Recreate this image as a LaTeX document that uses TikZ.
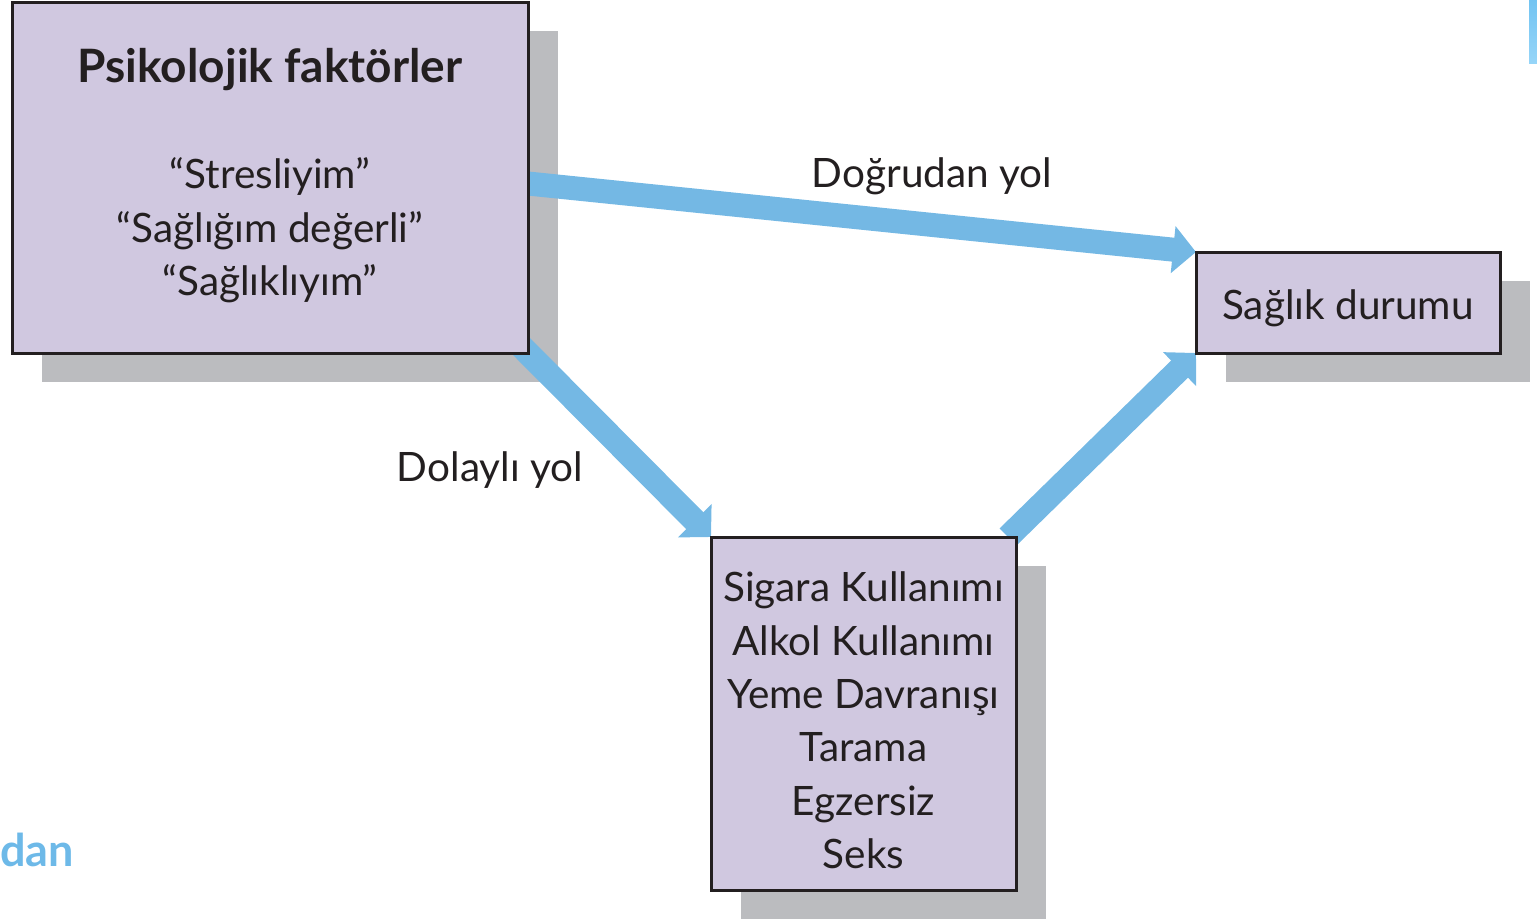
\documentclass[tikz,border=0pt]{standalone}
\usepackage{fontspec}
\setmainfont{Lato}
\usetikzlibrary{arrows.meta}
\definecolor{boxfill}{HTML}{D0C8E0}
\definecolor{boxline}{HTML}{231F20}
\definecolor{shade}{HTML}{BBBCBF}
\definecolor{arrowblue}{HTML}{74B8E4}
\definecolor{txt}{HTML}{231F20}
\definecolor{bartop}{HTML}{72C4F2}
\definecolor{barbot}{HTML}{96D5F8}
\definecolor{danblue}{HTML}{6DB9E8}
\pgfdeclarelayer{shadowlayer}
\pgfdeclarelayer{arrowlayer}
\pgfsetlayers{shadowlayer,arrowlayer,main}
\begin{document}
\begin{tikzpicture}[x=1pt,y=-1pt,
  box/.style={draw=boxline, line width=3pt, fill=boxfill, outer sep=0pt, inner sep=0pt},
  boxtext/.style={text=txt, align=center, inner sep=0pt, font=\fontsize{40.5}{53.4}\selectfont},
  flow/.style={draw=arrowblue, line width=24pt, -{Triangle[length=23pt,width=46pt]}},
  lbl/.style={text=txt, font=\fontsize{40.5}{53.4}\selectfont, inner sep=0pt},
  shadowbox/.style={fill=shade}
]
\useasboundingbox (0,0) rectangle (1537,922);

\node[box, minimum width=516pt, minimum height=351pt] (psy) at (270,177.5) {};
\node[box, minimum width=304pt, minimum height=101pt] (sag) at (1348,302.5) {};
\node[box, minimum width=305pt, minimum height=353pt] (low) at (863.5,713.5) {};

\node[boxtext] (psytext) at ([yshift=2pt]psy.center)
  {{\bfseries\fontsize{46}{53}\selectfont Psikolojik faktörler}\\[53pt]
   “Stresliyim”\\ “Sağlığım değerli”\\ “Sağlıklıyım”};
\node[boxtext] (sagtext) at ([yshift=-6pt]sag.center) {Sağlık durumu};
\node[boxtext] (lowtext) at ([yshift=-7pt]low.center)
  {Sigara Kullanımı\\ Alkol Kullanımı\\ Yeme Davranışı\\ Tarama\\ Egzersiz\\ Seks};

\node[lbl] (direct) at (932,176) {Doğrudan yol};
\node[lbl] (indirect) at (490,470) {Dolaylı yol};
\node[anchor=base west, inner sep=0pt, text=danblue, font=\bfseries\fontsize{45}{50}\selectfont] (dan) at (0,866) {dan};
\shade[top color=bartop, bottom color=barbot] (1529,0) rectangle (1537,63);

\begin{pgfonlayer}{shadowlayer}
  \foreach \n in {psy,sag,low}
    \fill[shadowbox] ([shift={(30,29)}]\n.north west) rectangle ([shift={(30,29)}]\n.south east);
\end{pgfonlayer}
\begin{pgfonlayer}{arrowlayer}
  \draw[flow] ([yshift=-6pt]psy.east) -- (sag.north west);
  \draw[flow] ([shift={(-8,-8)}]psy.south east) -- (low.north west);
  \draw[flow] ([xshift=-8pt]low.north east) -- (sag.south west);
\end{pgfonlayer}
\end{tikzpicture}
\end{document}
